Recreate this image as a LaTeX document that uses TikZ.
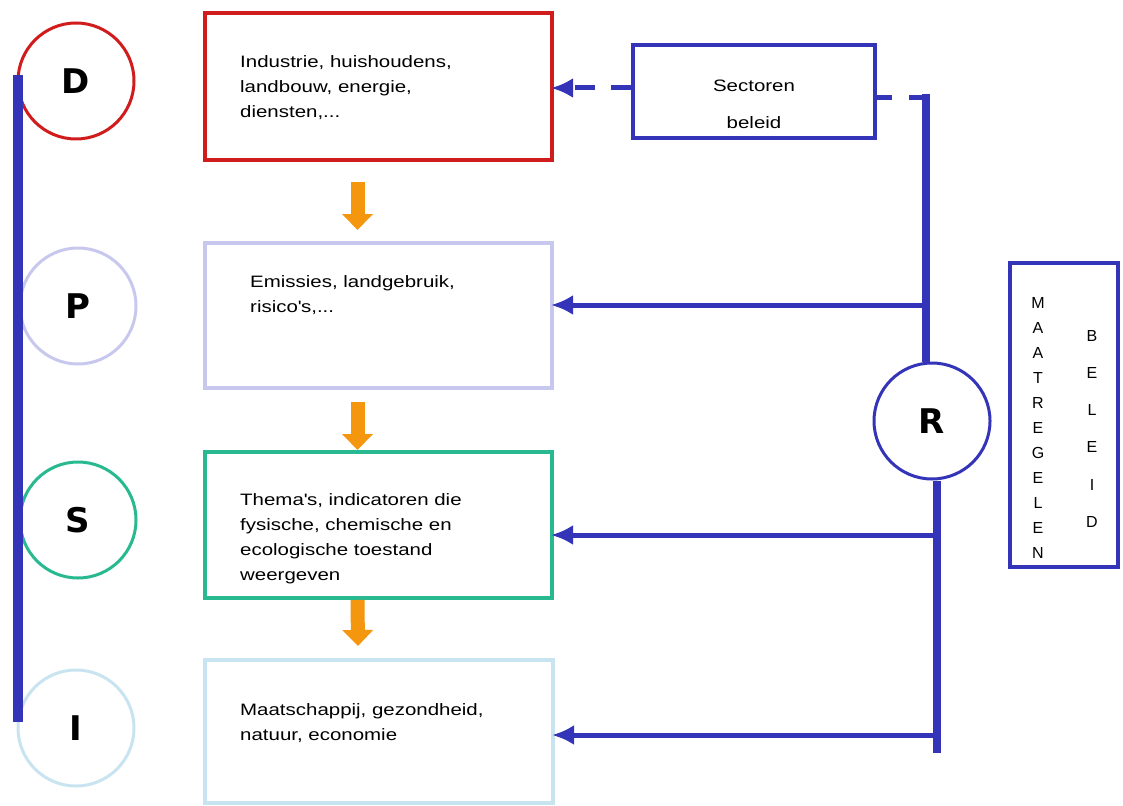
\documentclass[tikz,border=0pt]{standalone}
\usepackage{fontspec}
\setmainfont{Liberation Sans}
\newfontfamily\boxfont{Liberation Sans}[FakeStretch=1.24]
\newfontfamily\lettrfont{DejaVu Sans}
\usetikzlibrary{arrows.meta, calc}

\definecolor{dpsirblue}{RGB}{52,52,185}
\definecolor{drivered}{RGB}{208,28,28}
\definecolor{presslav}{RGB}{200,200,238}
\definecolor{stateteal}{RGB}{40,185,145}
\definecolor{impactblue}{RGB}{200,228,240}
\definecolor{floworange}{RGB}{245,150,15}

\begin{document}
\begin{tikzpicture}[x=1pt, y=-1pt]
  % styles for the DPSIR chain
  \tikzset{
    dpsir-circle/.style={circle, draw=#1, fill=white, line width=3pt,
      minimum size=116pt, inner sep=0pt,
      font=\lettrfont\bfseries\fontsize{34}{34}\selectfont},
    dpsir-box/.style={rectangle, draw=#1, line width=4pt, inner sep=0pt},
    box-text/.style={anchor=north west, inner sep=0pt, align=left,
      font=\boxfont\fontsize{16.5}{25}\selectfont},
    feed/.style={draw=dpsirblue, line width=5pt, shorten >=-3pt,
      -{Latex[length=22pt,width=20pt]}},
    chain/.style={draw=floworange, line width=14pt,
      -{Triangle[length=16pt,width=30pt]}},
    trunk/.style={draw=dpsirblue, line width=8pt},
  }
  \useasboundingbox (0,0) rectangle (1123,805);

  % circles on the left
  \node[dpsir-circle=drivered]   (D) at (76,81)  {D};
  \node[dpsir-circle=presslav]   (P) at (78,306) {P};
  \node[dpsir-circle=stateteal]  (S) at (78,520) {S};
  \node[dpsir-circle=impactblue] (I) at (76,728) {I};

  % the four boxes
  \node[dpsir-box=drivered,   minimum width=347pt, minimum height=147pt] (dbox) at (378.5,86.5) {};
  \node[dpsir-box=presslav,   minimum width=347pt, minimum height=145pt] (pbox) at (378.5,315.5) {};
  \node[dpsir-box=stateteal,  minimum width=347pt, minimum height=146pt] (sbox) at (378.5,525) {};
  \node[dpsir-box=impactblue, minimum width=348pt, minimum height=143pt] (ibox) at (379,731.5) {};

  \node[box-text] (dtext) at (240,55)  {Industrie, huishoudens,\\landbouw, energie,\\diensten,...};
  \node[box-text] (ptext) at (250,275) {Emissies, landgebruik,\\risico\textquotesingle s,...};
  \node[box-text] (stext) at (240,493) {Thema\textquotesingle s, indicatoren die\\fysische, chemische en\\ecologische toestand\\weergeven};
  \node[box-text] (itext) at (240,703) {Maatschappij, gezondheid,\\natuur, economie};

  % orange arrows between the boxes
  \draw[chain] ([xshift=-21pt,yshift=-20pt]dbox.south) -- ([xshift=-21pt,yshift=11pt]pbox.north);
  \draw[chain] ([xshift=-21pt,yshift=-12pt]pbox.south) -- ([xshift=-21pt]sbox.north);
  \draw[chain] ([xshift=-21pt]sbox.south) -- ([xshift=-21pt,yshift=12pt]ibox.north);

  % sector policy
  \node[dpsir-box=dpsirblue, minimum width=242pt, minimum height=93pt] (sect) at (754,91.5) {};
  \node[align=center, inner sep=0pt, font=\boxfont\fontsize{16.5}{37}\selectfont] (secttext) at (754,104) {Sectoren\\beleid};

  % response
  \node[dpsir-circle=dpsirblue] (R) at (932,421) {R};
  \coordinate (rtop) at (926,98);
  \coordinate (rbot) at (937,753);

  \draw[feed, dash pattern=on 20pt off 16pt] ([yshift=3.5pt]sect.west) -- ([yshift=3.5pt]sect.west -| dbox.east);
  \draw[dpsirblue, line width=5pt, dash pattern=on 15pt off 17pt on 30pt] ([yshift=-6.5pt]sect.east) -- (rtop);
  \draw[trunk] ($(rtop)+(0,-4)$) -- (rtop |- R.north);
  \draw[trunk] (R.south -| rbot) -- (rbot);

  \coordinate (pjoin) at (926,305);
  \coordinate (sjoin) at (937,535);
  \coordinate (ijoin) at (937,735);
  \draw[feed] (pjoin) -- (pjoin -| pbox.east);
  \draw[feed] (sjoin) -- (sjoin -| sbox.east);
  \draw[feed] (ijoin) -- (ijoin -| ibox.east);

  % measures / policy
  \node[dpsir-box=dpsirblue, minimum width=108pt, minimum height=304pt] (maat) at (1064,415) {};
  \node[anchor=north, inner sep=0pt, align=center, font=\fontsize{16}{25}\selectfont] (maattext) at (1038,297) {M\\A\\A\\T\\R\\E\\G\\E\\L\\E\\N};
  \node[anchor=north, inner sep=0pt, align=center, font=\fontsize{16}{37.2}\selectfont] (beleidtext) at (1092,330) {B\\E\\L\\E\\I\\D};

  % spine on the left
  \draw[draw=dpsirblue, line width=10pt] (18,75) -- (18,722);
\end{tikzpicture}
\end{document}
